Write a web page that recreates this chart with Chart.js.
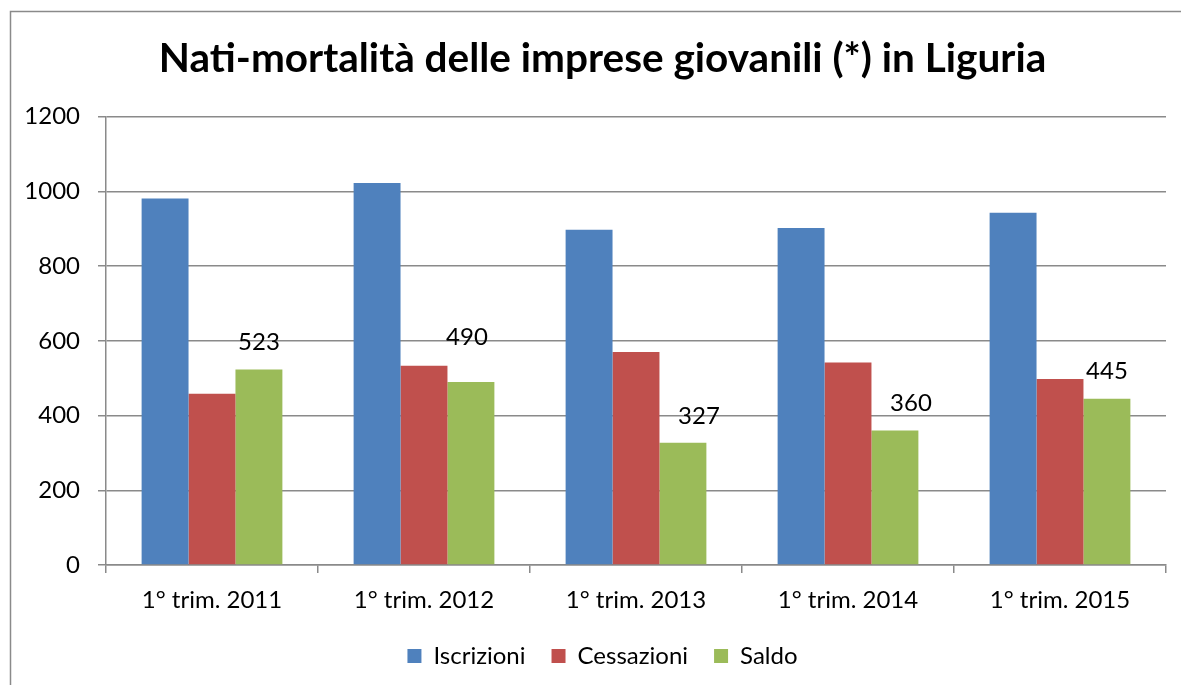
<!DOCTYPE html>
<html>
<head>
<meta charset="utf-8">
<script src="https://cdn.jsdelivr.net/npm/chart.js@4.4.1/dist/chart.umd.min.js"></script>
<style>
  html, body { margin: 0; padding: 0; background: #ffffff; }
  #wrap { width: 1181px; height: 685px; position: relative; }
</style>
</head>
<body>
<div id="wrap"><canvas id="c" width="1181" height="685"></canvas></div>
<script>
const categories = ["1° trim. 2011", "1° trim. 2012", "1° trim. 2013", "1° trim. 2014", "1° trim. 2015"];
const iscrizioni = [981, 1022, 897, 902, 943];
const cessazioni = [458, 533, 570, 542, 498];
const saldo = [523, 490, 327, 360, 445];
const yTicks = [0, 200, 400, 600, 800, 1000, 1200];
const titleText = "Nati-mortalità delle imprese giovanili (*) in Liguria";

const FONT = "Lato";
const GRID = "#8a8a8a";

const borderPlugin = {
  id: "frame",
  beforeDraw(chart) {
    const ctx = chart.ctx;
    ctx.save();
    ctx.fillStyle = "#ffffff";
    ctx.fillRect(0, 0, chart.width, chart.height);
    ctx.strokeStyle = "#8a8a8a";
    ctx.lineWidth = 1.5;
    ctx.strokeRect(10.5, 11.5, chart.width + 20, chart.height + 20);
    ctx.restore();
  }
};

const labelPlugin = {
  id: "saldoLabels",
  afterDatasetsDraw(chart, args, opts) {
    const ctx = chart.ctx;
    const meta = chart.getDatasetMeta(opts.datasetIndex);
    const ds = chart.data.datasets[opts.datasetIndex];
    ctx.save();
    ctx.font = "24px " + FONT;
    ctx.fillStyle = "#000000";
    ctx.textAlign = "center";
    ctx.textBaseline = "middle";
    meta.data.forEach((bar, i) => {
      ctx.fillText(String(ds.data[i]), bar.x + opts.dx[i], bar.y - opts.dy[i]);
    });
    ctx.restore();
  }
};

new Chart(document.getElementById("c"), {
  type: "bar",
  data: {
    labels: categories,
    datasets: [
      { label: "Iscrizioni", data: iscrizioni, backgroundColor: "#4F81BD" },
      { label: "Cessazioni", data: cessazioni, backgroundColor: "#C0504D" },
      { label: "Saldo", data: saldo, backgroundColor: "#9BBB59" }
    ]
  },
  options: {
    responsive: false,
    animation: false,
    layout: { padding: { left: 24, right: 0, top: 0, bottom: 7 } },
    datasets: { bar: { categoryPercentage: 0.664, barPercentage: 1.0 } },
    scales: {
      x: {
        offset: true,
        grid: { display: true, drawOnChartArea: false, offset: true, color: GRID, tickLength: 8, lineWidth: 1.5 },
        border: { display: true, color: GRID, width: 1.5 },
        ticks: { color: "#000000", font: { family: FONT, size: 24 }, padding: 13, maxRotation: 0 },
        afterFit(scale) { scale.height = 53; }
      },
      y: {
        min: 0, max: 1200,
        afterBuildTicks(scale) { scale.ticks = yTicks.map(v => ({ value: v })); },
        grid: { color: GRID, tickLength: 8, lineWidth: 1.5 },
        border: { display: true, color: GRID, width: 1.5 },
        ticks: { color: "#000000", font: { family: FONT, size: 24 }, padding: 18, callback: v => String(v) },
        afterFit(scale) { scale.width = 82; }
      },
      yRightSpace: {
        type: "linear",
        position: "right",
        display: true,
        min: 0, max: 1200,
        grid: { display: false, drawOnChartArea: false },
        border: { display: false },
        ticks: { display: false },
        afterFit(scale) { scale.width = 15; }
      }
    },
    plugins: {
      title: {
        display: true,
        text: titleText,
        color: "#000000",
        font: { family: FONT, size: 40.5, weight: "bold" },
        padding: { top: 35, bottom: 33 }
      },
      legend: {
        position: "bottom",
        labels: {
          color: "#000000",
          font: { family: FONT, size: 24 },
          boxWidth: 14, boxHeight: 14, padding: 26
        }
      },
      tooltip: { enabled: false },
      saldoLabels: { datasetIndex: 2, dx: [0, -4, 16, 16, 0], dy: [27, 45, 27, 27, 27] }
    }
  },
  plugins: [borderPlugin, labelPlugin]
});
</script>
</body>
</html>
